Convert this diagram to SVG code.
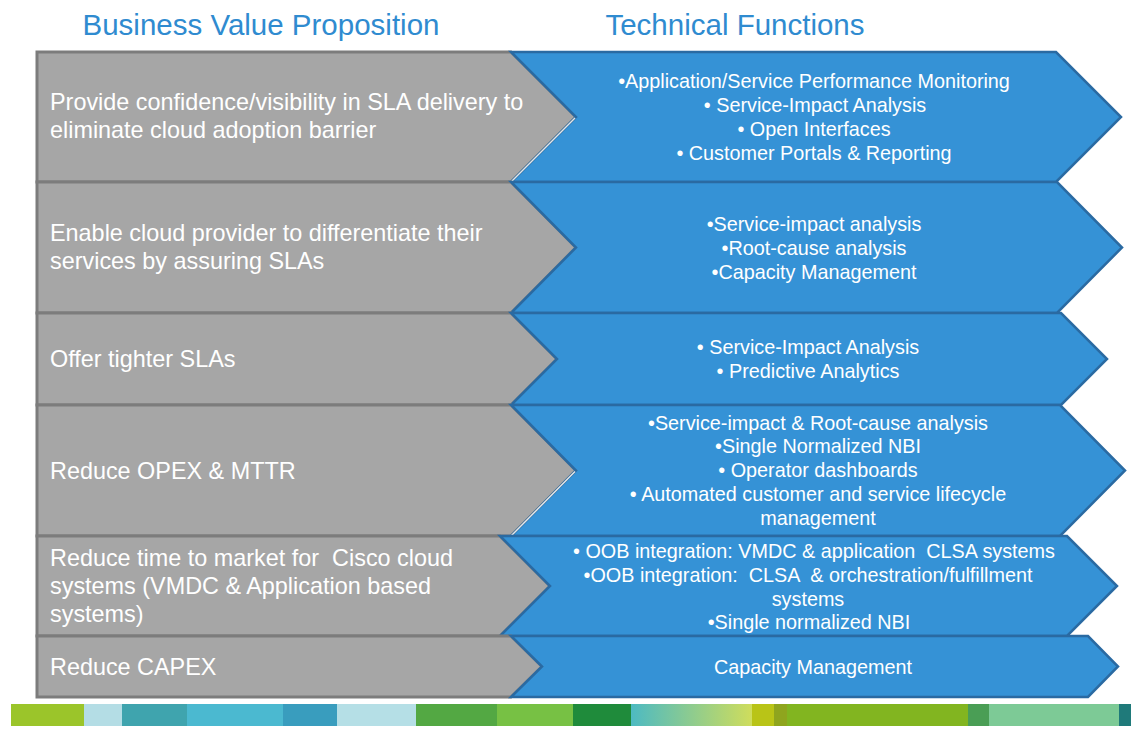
<svg xmlns="http://www.w3.org/2000/svg" width="1134" height="740" viewBox="0 0 1134 740">
<style>
.hdr{font-family:"Liberation Sans",Arial,sans-serif;font-size:29.5px;fill:#2F8BD0;text-anchor:middle}
.g{fill:#A6A6A6;stroke:#7C7C7C;stroke-width:3;stroke-linejoin:miter}
.b{fill:#3592D6;stroke:#2A6AA2;stroke-width:2.5;stroke-linejoin:miter}
.hl{stroke:#E6E6E6;stroke-width:1.5;fill:none}
.lt{font-family:"Liberation Sans",Arial,sans-serif;font-size:23.4px;fill:#FFFFFF}
.rt{font-family:"Liberation Sans",Arial,sans-serif;font-size:19.8px;fill:#FFFFFF;text-anchor:middle}
</style>
<rect width="1134" height="740" fill="#FFFFFF"/>
<g id="headers">
<text class="hdr" x="261" y="35">Business Value Proposition</text>
<text class="hdr" x="735" y="35">Technical Functions</text>
</g>
<g id="row1">
<polygon class="g" points="37,52 511,52 576,117 511,182 37,182"/>
<polygon class="b" points="511,52 1056,52 1121,117 1056,182 511,182 576,117"/>
<line class="hl" x1="575" y1="118" x2="511" y2="182"/>
<text class="lt" x="50" y="110">Provide confidence/visibility in SLA delivery to</text>
<text class="lt" x="50" y="138">eliminate cloud adoption barrier</text>
<text class="rt" x="814" y="88">•Application/Service Performance Monitoring</text>
<text class="rt" x="815" y="112">• Service-Impact Analysis</text>
<text class="rt" x="814" y="136">• Open Interfaces</text>
<text class="rt" x="814" y="160">• Customer Portals &amp; Reporting</text>
</g>
<g id="row2">
<polygon class="g" points="37,182 511,182 576,247.5 511,313 37,313"/>
<polygon class="b" points="511,182 1057,182 1122,247.5 1057,313 511,313 576,247.5"/>
<text class="lt" x="50" y="241">Enable cloud provider to differentiate their</text>
<text class="lt" x="50" y="269">services by assuring SLAs</text>
<text class="rt" x="814" y="231">•Service-impact analysis</text>
<text class="rt" x="814" y="255">•Root-cause analysis</text>
<text class="rt" x="814" y="279">•Capacity Management</text>
</g>
<g id="row3">
<polygon class="g" points="37,313 511,313 557,359 511,405 37,405"/>
<polygon class="b" points="511,313 1061,313 1107,359 1061,405 511,405 557,359"/>
<text class="lt" x="50" y="367">Offer tighter SLAs</text>
<text class="rt" x="808" y="354">• Service-Impact Analysis</text>
<text class="rt" x="808" y="378">• Predictive Analytics</text>
</g>
<g id="row4">
<polygon class="g" points="37,405 511,405 576,470.5 511,536 37,536"/>
<polygon class="b" points="511,405 1060,405 1125,470.5 1060,536 511,536 576,470.5"/>
<line class="hl" x1="575" y1="471.5" x2="511" y2="536"/>
<text class="lt" x="50" y="479">Reduce OPEX &amp; MTTR</text>
<text class="rt" x="818" y="430">•Service-impact &amp; Root-cause analysis</text>
<text class="rt" x="818" y="453">•Single Normalized NBI</text>
<text class="rt" x="818" y="477">• Operator dashboards</text>
<text class="rt" x="818" y="501">• Automated customer and service lifecycle</text>
<text class="rt" x="818" y="525">management</text>
</g>
<g id="row5">
<polygon class="g" points="37,536 500,536 550,586 500,636 37,636"/>
<polygon class="b" points="500,536 1067,536 1117,586 1067,636 500,636 550,586"/>
<text class="lt" x="50" y="566" xml:space="preserve">Reduce time to market for  Cisco cloud</text>
<text class="lt" x="50" y="594">systems (VMDC &amp; Application based</text>
<text class="lt" x="50" y="622">systems)</text>
<text class="rt" x="814" y="558" xml:space="preserve">• OOB integration: VMDC &amp; application  CLSA systems</text>
<text class="rt" x="808" y="582" xml:space="preserve">•OOB integration:  CLSA  &amp; orchestration/fulfillment</text>
<text class="rt" x="808" y="606">systems</text>
<text class="rt" x="809" y="629">•Single normalized NBI</text>
</g>
<g id="row6">
<polygon class="g" points="37,636 511,636 542,666.5 511,697 37,697"/>
<polygon class="b" points="511,636 1088,636 1118,666.5 1088,697 511,697 542,666.5"/>
<text class="lt" x="50" y="675">Reduce CAPEX</text>
<text class="rt" x="813" y="674">Capacity Management</text>
</g>
<defs>
<linearGradient id="grad1" x1="0" x2="1" y1="0" y2="0">
<stop offset="0" stop-color="#4DBAC2"/>
<stop offset="1" stop-color="#CFDD5C"/>
</linearGradient>
</defs>
<g id="colorbar">
<rect x="11" y="704" width="73" height="22" fill="#9BC52A"/>
<rect x="84" y="704" width="38" height="22" fill="#B4DDE5"/>
<rect x="122" y="704" width="65" height="22" fill="#3FA4AE"/>
<rect x="187" y="704" width="96" height="22" fill="#4BB9D0"/>
<rect x="283" y="704" width="54" height="22" fill="#399DBE"/>
<rect x="337" y="704" width="79" height="22" fill="#B5DFE6"/>
<rect x="416" y="704" width="81" height="22" fill="#53A843"/>
<rect x="497" y="704" width="76" height="22" fill="#77C144"/>
<rect x="573" y="704" width="58" height="22" fill="#1F8B3B"/>
<rect x="631" y="704" width="121" height="22" fill="url(#grad1)"/>
<rect x="752" y="704" width="22" height="22" fill="#B9C417"/>
<rect x="774" y="704" width="13" height="22" fill="#8FA51E"/>
<rect x="787" y="704" width="181" height="22" fill="#82B520"/>
<rect x="968" y="704" width="21" height="22" fill="#4A9E55"/>
<rect x="989" y="704" width="130" height="22" fill="#7DCA96"/>
<rect x="1119" y="704" width="12" height="22" fill="#1F7A7A"/>
</g>
</svg>
